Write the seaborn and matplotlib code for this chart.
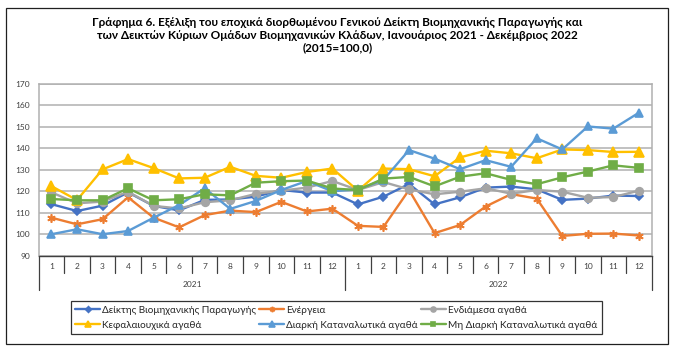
import seaborn as sns
import matplotlib.pyplot as plt
import matplotlib.patches as mpatches
import pandas as pd

# Month labels (two years)
months = list(range(1, 13)) * 2
years = ['2021', '2022']

# Index values (2015=100)
general = [114.0, 110.8, 113.3, 119.5, 113.2, 111.1, 116.0, 116.2, 117.5, 120.6, 119.4, 119.4,
           113.9, 117.5, 123.4, 113.9, 117.2, 121.7, 122.2, 120.9, 116.0, 116.6, 118.0, 117.8]
energy = [107.7, 104.6, 107.0, 117.2, 107.7, 103.2, 108.9, 111.0, 110.3, 115.1, 110.6, 111.9,
          103.9, 103.4, 120.6, 100.5, 104.3, 112.9, 118.7, 116.6, 99.2, 100.2, 100.3, 99.4]
intermediate = [119.5, 114.4, 115.2, 119.8, 113.2, 112.0, 114.9, 115.8, 118.8, 120.3, 121.7, 124.8,
                120.6, 124.3, 120.9, 118.6, 119.8, 121.4, 118.9, 120.6, 119.8, 117.0, 117.3, 120.3]
capital = [122.4, 115.9, 130.2, 135.0, 130.8, 126.0, 126.3, 131.4, 127.2, 126.3, 129.0, 130.6,
           120.3, 130.6, 130.3, 127.0, 135.8, 138.9, 137.7, 135.4, 139.5, 139.2, 138.3, 138.4]
durable = [100.0, 102.3, 100.0, 101.5, 107.7, 113.6, 121.4, 111.8, 115.5, 120.6, 124.8, 120.0,
           120.9, 125.3, 139.2, 135.2, 130.3, 134.5, 131.4, 144.7, 139.5, 150.2, 149.2, 156.6]
nondurable = [116.4, 115.8, 115.8, 121.4, 115.8, 116.3, 118.6, 118.1, 124.0, 124.7, 125.0, 121.3,
              120.6, 125.9, 126.7, 122.3, 126.8, 128.4, 125.3, 123.3, 126.5, 129.2, 132.1, 130.9]

series_names = ['Δείκτης Βιομηχανικής Παραγωγής', 'Ενέργεια', 'Ενδιάμεσα αγαθά',
                'Κεφαλαιουχικά αγαθά', 'Διαρκή Καταναλωτικά αγαθά', 'Μη Διαρκή Καταναλωτικά αγαθά']
series_values = [general, energy, intermediate, capital, durable, nondurable]
colors = ['#4472C4', '#ED7D31', '#A5A5A5', '#FFC000', '#5B9BD5', '#70AD47']
markers = ['D', (6, 2, 0), 'o', '^', '^', 's']
msizes = [4.5, 6, 5.5, 6.5, 6, 5.5]

sns.set_theme(style='white')
plt.rcParams['font.family'] = ['Lato', 'DejaVu Sans']

fig = plt.figure(figsize=(6.75, 3.53), dpi=100)
ax = fig.add_axes([0.0573, 0.2757, 0.9081, 0.4864])

idx = list(range(len(months)))
for name, vals, c, m, ms in zip(series_names, series_values, colors, markers, msizes):
    df = pd.DataFrame({'x': idx, 'y': vals})
    sns.lineplot(data=df, x='x', y='y', color=c, marker=m, markersize=ms,
                 markeredgecolor=c, markeredgewidth=1.2, linewidth=1.7,
                 label=name, ax=ax, legend=False)

# Axes styling
ax.set_xlim(-0.5, 23.5)
ax.set_ylim(90, 170)
ax.set_yticks(range(90, 171, 10))
ax.yaxis.grid(True, color='#b0b0b0', linewidth=1.1)
ax.set_axisbelow(True)
ax.tick_params(axis='y', length=0, pad=6, labelsize=6, labelcolor='#404040')
ax.set_xticks(idx)
ax.set_xticklabels([str(m) for m in months])
ax.tick_params(axis='x', length=0, pad=5, labelsize=6, labelcolor='#404040')
ax.set_xlabel('')
ax.set_ylabel('')
for s in ['top', 'right', 'left']:
    ax.spines[s].set_color('#b0b0b0')
    ax.spines[s].set_linewidth(1.1)
ax.spines['bottom'].set_color('#404040')
ax.spines['bottom'].set_linewidth(1.0)

# Category separators (two-level axis)
trans = ax.get_xaxis_transform()
for k in range(25):
    bottom = -0.2 if k in (0, 12, 24) else -0.099
    ax.plot([k - 0.5, k - 0.5], [0, bottom], color='#404040', linewidth=0.9,
            transform=trans, clip_on=False)
for i, yr in enumerate(years):
    ax.text(i * 12 + 5.5, -0.165, yr, transform=trans, ha='center', va='center',
            fontsize=6, color='#404040')

# Title
fig.text(0.5, 0.952, 'Γράφημα 6. Εξέλιξη του εποχικά διορθωμένου Γενικού Δείκτη Βιομηχανικής Παραγωγής και\n'
         'των Δεικτών Κύριων Ομάδων Βιομηχανικών Κλάδων, Ιανουάριος 2021 - Δεκέμβριος 2022\n'
         '(2015=100,0)', ha='center', va='top', fontsize=8.5, fontweight='bold',
         linespacing=1.18, color='#000000')

# Legend
handles, labels = ax.get_legend_handles_labels()
order = [0, 3, 1, 4, 2, 5]
leg = fig.legend([handles[i] for i in order], [labels[i] for i in order], ncol=3,
                 loc='center', bbox_to_anchor=(0.498, 0.100), fontsize=7.2,
                 frameon=True, fancybox=False, edgecolor='#000000', handlelength=2.5,
                 handletextpad=0.2, columnspacing=0.3, borderpad=0.45, labelspacing=0.6,
                 markerscale=0.65)
leg.get_frame().set_linewidth(0.9)

# Outer frame
fig.patches.append(mpatches.Rectangle((0.0089, 0.0255), 0.980, 0.9527, transform=fig.transFigure,
                                      fill=False, edgecolor='#202020', linewidth=0.9))

fig.savefig('out.png', dpi=100)
